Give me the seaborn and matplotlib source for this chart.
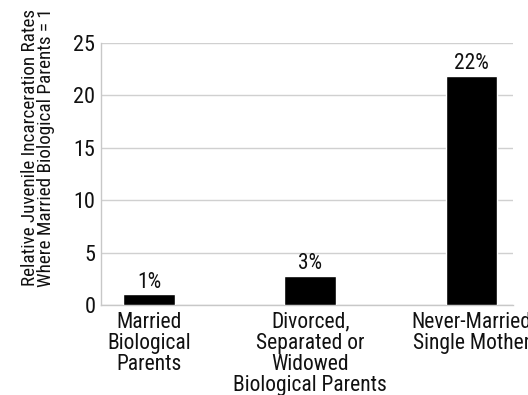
import matplotlib
matplotlib.use("Agg")
import matplotlib.pyplot as plt
import seaborn as sns
import pandas as pd

categories = [
    "Married\nBiological\nParents",
    "Divorced,\nSeparated or\nWidowed\nBiological Parents",
    "Never-Married\nSingle Mother",
]
rates = [1.0, 2.8, 21.9]
y_ticks = [0, 5, 10, 15, 20, 25]
y_label = "Relative Juvenile Incarceration Rates\nWhere Married Biological Parents = 1"

sns.set_theme(style="white")
plt.rcParams["font.family"] = ["Roboto Condensed", "DejaVu Sans"]

df = pd.DataFrame({"group": categories, "rate": rates})

fig = plt.figure(figsize=(5.28, 3.95), dpi=100)
ax = fig.add_axes([0.191, 0.228, 0.781, 0.663])

sns.barplot(data=df, x="group", y="rate", color="black", width=0.32,
            saturation=1, ax=ax, zorder=3)

for i, v in enumerate(rates):
    ax.text(i, v + 0.12, f"{v:.0f}%", ha="center", va="bottom",
            fontsize=15.5, color="#111111")

ax.set_ylim(0, 25)
ax.set_xlim(-0.3, 2.26)
ax.set_yticks(y_ticks)
ax.set_yticklabels([str(t) for t in y_ticks], fontsize=16, color="#111111")
ax.tick_params(axis="x", labelsize=15.5, colors="#111111", length=0, pad=5)
ax.tick_params(axis="y", length=0, pad=4)
for lbl in ax.get_xticklabels():
    lbl.set_linespacing(1.0)
ax.set_xlabel("")
ax.set_ylabel(y_label, fontsize=13.8, color="#111111", linespacing=0.9)
ax.yaxis.set_label_coords(-0.11, 0.6)

ax.yaxis.grid(True, color="#d0d0d0", linewidth=1, zorder=0)
ax.set_axisbelow(True)
for side in ["top", "right"]:
    ax.spines[side].set_visible(False)
for side in ["left", "bottom"]:
    ax.spines[side].set_color("#c8c8c8")
    ax.spines[side].set_linewidth(1)

fig.savefig("out.png", dpi=100)
